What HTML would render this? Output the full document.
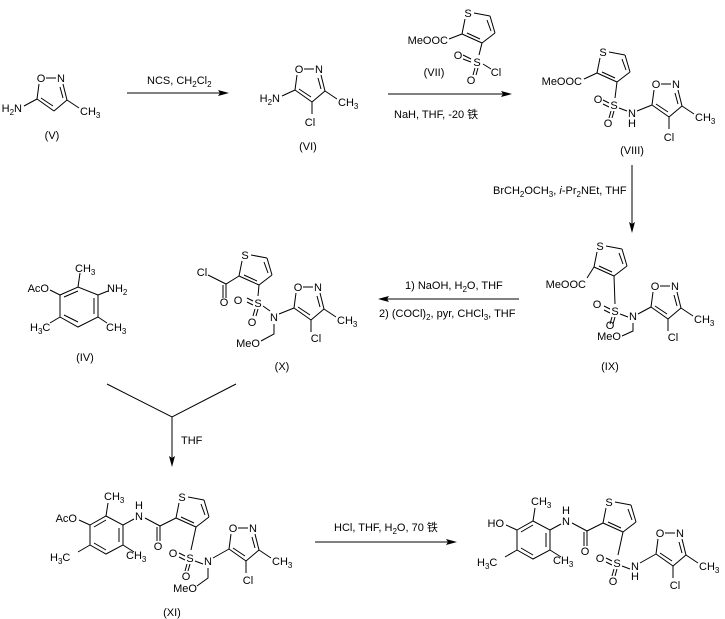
<!DOCTYPE html>
<html><head><meta charset="utf-8"><style>
html,body{margin:0;padding:0;background:#fff}
svg{display:block}
text{font-family:"Liberation Sans","Noto Sans CJK SC",sans-serif;font-size:11px;fill:#000}
.m{text-anchor:middle}.e{text-anchor:end}
path,line{stroke:#000;stroke-width:1;fill:none}
.ah{fill:#000;stroke:none}
</style></head><body>
<svg width="725" height="619" viewBox="0 0 725 619" xmlns="http://www.w3.org/2000/svg">
<defs>
<g id="iso"><path d="M5,0 L15,0 M22,6 L26,22 M19,9 L22,20 M26,22 L13,33 M13,33 L-4,21 M12,28 L0,20 M-4,21 L-2,6 M26,22 L38,30"/></g>
<g id="thio"><path d="M6,0 L22,3 M22,3 L27,20 M19,7 L23,18 M27,20 L14,30 M14,30 L-6,21 M12,26 L-1,20 M-6,21 L-3,6"/></g>
<g id="so2"><path d="M-11,-5 L-5,-2 M-11,-1 L-5,2 M-3,6 L-5,13 M0,6 L-2,13"/></g>
</defs>

<!-- (V) -->
<use href="#iso" x="41" y="78"/>
<text class="m" x="41" y="82">O</text><text class="m" x="61" y="82">N</text>
<text x="80" y="115">CH<tspan dy="3" font-size="8">3</tspan></text>
<path d="M37,99 L24,106"/>
<text class="e" x="22" y="112">H<tspan dy="3" font-size="8">2</tspan><tspan dy="-3">N</tspan></text>
<text class="m" x="52" y="139">(V)</text>

<!-- arrow 1 -->
<line x1="127" y1="93" x2="224" y2="93"/><path class="ah" d="M229,93 L218,90 L220,93 L218,96Z"/>
<text x="147" y="84">NCS, CH<tspan dy="3" font-size="8">2</tspan><tspan dy="-3">Cl</tspan><tspan dy="3" font-size="8">2</tspan></text>

<!-- (VI) -->
<use href="#iso" x="299" y="69"/>
<text class="m" x="299" y="73">O</text><text class="m" x="319" y="73">N</text>
<text x="338" y="106">CH<tspan dy="3" font-size="8">3</tspan></text>
<path d="M312,102 L312,114"/><text class="m" x="310" y="126">Cl</text>
<path d="M295,90 L282,96"/>
<text class="e" x="280" y="102">H<tspan dy="3" font-size="8">2</tspan><tspan dy="-3">N</tspan></text>
<text class="m" x="308" y="150">(VI)</text>

<!-- arrow 2 with (VII) -->
<line x1="388" y1="94" x2="507" y2="94"/><path class="ah" d="M512,94 L501,91 L503,94 L501,97Z"/>
<text x="394" y="118">NaH, THF, -20 铁</text>
<use href="#thio" x="468" y="13"/>
<text class="m" x="468" y="17">S</text>
<path d="M462,34 L449,39"/><text class="e" x="448" y="44">MeOOC</text>
<path d="M482,43 L479,55"/>
<text class="m" x="477" y="66">S</text>
<path d="M463,55 L471,59 M463,59 L471,62 M475,68 L473,75 M478,68 L476,75 M483,64 L491,69"/>
<text class="m" x="458" y="59">O</text><text class="m" x="471" y="84">O</text><text class="m" x="496" y="76">Cl</text>
<text class="m" x="434" y="76">(VII)</text>

<!-- (VIII) -->
<use href="#thio" x="603" y="52"/>
<text class="m" x="603" y="56">S</text>
<path d="M597,73 L584,79"/><text class="e" x="582" y="85">MeOOC</text>
<path d="M617,82 L615,98"/>
<use href="#so2" x="614" y="105"/>
<text class="m" x="614" y="109">S</text>
<text class="m" x="598" y="103">O</text><text class="m" x="608" y="127">O</text>
<path d="M619,108 L627,111"/>
<text class="m" x="632" y="117">N</text><text class="m" x="632" y="127">H</text>
<path d="M637,111 L652,105"/>
<use href="#iso" x="656" y="84"/>
<text class="m" x="656" y="88">O</text><text class="m" x="676" y="88">N</text>
<text x="695" y="121">CH<tspan dy="3" font-size="8">3</tspan></text>
<path d="M669,117 L669,129"/><text class="m" x="669" y="141">Cl</text>
<text class="m" x="632" y="154">(VIII)</text>

<!-- arrow 3 down -->
<line x1="632" y1="165" x2="632" y2="228"/><path class="ah" d="M632,233 L629,222 L632,224 L635,222Z"/>
<text x="493" y="194">BrCH<tspan dy="3" font-size="8">2</tspan><tspan dy="-3">OCH</tspan><tspan dy="3" font-size="8">3</tspan><tspan dy="-3">, </tspan><tspan font-style="italic">i</tspan>-Pr<tspan dy="3" font-size="8">2</tspan><tspan dy="-3">NEt, THF</tspan></text>

<!-- (IX) -->
<use href="#thio" x="600" y="246"/>
<text class="m" x="600" y="250">S</text>
<path d="M594,267 L587,278"/><text class="e" x="586" y="288">MeOOC</text>
<path d="M614,276 L615,304"/>
<use href="#so2" x="615" y="311"/>
<text class="m" x="615" y="315">S</text>
<text class="m" x="597" y="308">O</text><text class="m" x="610" y="329">O</text>
<path d="M620,314 L628,317"/>
<text class="m" x="633" y="320">N</text>
<path d="M638,314 L651,307"/>
<path d="M633,323 L633,331 L622,336"/><text class="m" x="609" y="340">MeO</text>
<use href="#iso" x="655" y="286"/>
<text class="m" x="655" y="290">O</text><text class="m" x="675" y="290">N</text>
<text x="694" y="323">CH<tspan dy="3" font-size="8">3</tspan></text>
<path d="M668,319 L668,331"/><text class="m" x="673" y="341">Cl</text>
<text class="m" x="610" y="370">(IX)</text>

<!-- arrow 4 left -->
<line x1="383" y1="299" x2="519" y2="299"/><path class="ah" d="M378,299 L389,296 L387,299 L389,302Z"/>
<text x="405" y="289">1) NaOH, H<tspan dy="3" font-size="8">2</tspan><tspan dy="-3">O, THF</tspan></text>
<text x="379" y="317">2) (COCl)<tspan dy="3" font-size="8">2</tspan><tspan dy="-3">, pyr, CHCl</tspan><tspan dy="3" font-size="8">3</tspan><tspan dy="-3">, THF</tspan></text>

<!-- (X) -->
<use href="#thio" x="245" y="255"/>
<text class="m" x="245" y="259">S</text>
<path d="M239,276 L226,284 L208,275 M226,284 L226,298 M223,285 L223,298"/>
<text class="m" x="202" y="276">Cl</text><text class="m" x="224" y="306">O</text>
<path d="M259,285 L258,296"/>
<use href="#so2" x="258" y="303"/>
<text class="m" x="258" y="307">S</text>
<text class="m" x="238" y="304">O</text><text class="m" x="252" y="326">O</text>
<path d="M263,306 L270,311"/>
<text class="m" x="274" y="321">N</text>
<path d="M279,314 L294,308"/>
<path d="M274,324 L274,334 L261,341"/><text class="m" x="248" y="347">MeO</text>
<use href="#iso" x="298" y="287"/>
<text class="m" x="298" y="291">O</text><text class="m" x="318" y="291">N</text>
<text x="337" y="324">CH<tspan dy="3" font-size="8">3</tspan></text>
<path d="M311,320 L311,332"/><text class="m" x="316" y="342">Cl</text>
<text class="m" x="282" y="370">(X)</text>

<!-- (IV) -->
<path d="M60,295 L78,287 L98,295 L98,317 L78,327 L60,317 Z M64,297 L78,291 M94,298 L94,314 M64,315 L78,322"/>
<path d="M78,287 L80,273 M98,295 L108,291 M60,295 L50,290 M60,317 L50,323 M98,317 L107,323"/>
<text x="75" y="272">CH<tspan dy="3" font-size="8">3</tspan></text>
<text x="107" y="292">NH<tspan dy="3" font-size="8">2</tspan></text>
<text class="e" x="49" y="292">AcO</text>
<text x="30" y="331">H<tspan dy="3" font-size="8">3</tspan><tspan dy="-3">C</tspan></text>
<text x="106" y="331">CH<tspan dy="3" font-size="8">3</tspan></text>
<text class="m" x="85" y="361">(IV)</text>

<!-- combiner arrow -->
<path d="M107,384 L172,417 L236,384 M172,417 L172,462"/><path class="ah" d="M172,467 L169,456 L172,458 L175,456Z"/>
<text x="181" y="444">THF</text>

<!-- (XI) -->
<g id="ar">
<path d="M90,525 L106,516 L123,525 L123,545 L106,554 L90,545 Z M94,527 L106,520 M119,528 L119,542 M94,543 L106,550"/>
<path d="M106,516 L108,503 M123,525 L134,519 M90,525 L79,520 M90,545 L78,552 M123,545 L134,552"/>
<text x="104" y="500">CH<tspan dy="3" font-size="8">3</tspan></text>
<text x="126" y="559">CH<tspan dy="3" font-size="8">3</tspan></text>
<text x="50" y="561">H<tspan dy="3" font-size="8">3</tspan><tspan dy="-3">C</tspan></text>
<text class="m" x="139" y="520">N</text><text class="m" x="139" y="509">H</text>
<path d="M145,518 L160,526 M160,526 L160,541 M157,527 L157,541 M160,526 L176,518"/>
<text class="m" x="158" y="550">O</text>
<use href="#thio" x="182" y="497"/>
<text class="m" x="182" y="501">S</text>
<path d="M196,527 L191,550"/>
<use href="#so2" x="190" y="558"/>
<text class="m" x="190" y="562">S</text>
<text class="m" x="173" y="557">O</text><text class="m" x="186" y="580">O</text>
<use href="#iso" x="233" y="528"/>
<text class="m" x="233" y="532">O</text><text class="m" x="253" y="532">N</text>
<text x="272" y="565">CH<tspan dy="3" font-size="8">3</tspan></text>
<path d="M246,561 L246,573"/><text class="m" x="248" y="584">Cl</text>
</g>
<text class="e" x="77" y="522">AcO</text>
<path d="M195,561 L203,564"/>
<text class="m" x="208" y="565">N</text>
<path d="M213,558 L229,549"/>
<path d="M208,568 L208,578 L197,586"/><text class="m" x="185" y="592">MeO</text>
<text class="m" x="172" y="616">(XI)</text>

<!-- arrow 5 -->
<line x1="315" y1="542" x2="452" y2="542"/><path class="ah" d="M457,542 L446,539 L448,542 L446,545Z"/>
<text x="334" y="531">HCl, THF, H<tspan dy="3" font-size="8">2</tspan><tspan dy="-3">O, 70 铁</tspan></text>

<!-- final product -->
<use href="#ar" x="427" y="5"/>
<text class="e" x="504" y="527">HO</text>
<path d="M622,566 L630,569"/>
<text class="m" x="635" y="570">N</text><text class="m" x="635" y="580">H</text>
<path d="M640,563 L656,554"/>
</svg>
</body></html>
